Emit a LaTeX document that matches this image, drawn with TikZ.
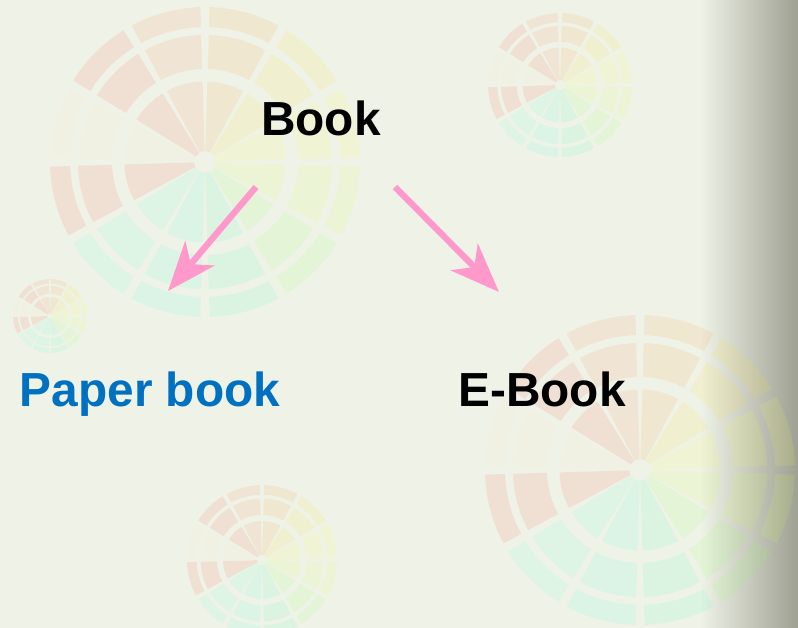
\documentclass[tikz,border=0pt]{standalone}
\usepackage{fontspec}
\setmainfont{Liberation Sans}
\usetikzlibrary{arrows.meta}
\definecolor{bg}{RGB}{239,243,231}
\definecolor{edge}{RGB}{158,160,146}
\definecolor{pb}{RGB}{0,112,192}
\definecolor{pk}{RGB}{255,153,204}

% faint colour wheel: x, y, radius
\newcommand{\drawwheel}[3]{%
  \begin{scope}[shift={(#1,#2)}]
  \foreach \h/\s [count=\k from 0] in {28/0.8,50/0.8,62/0.7,75/0.7,100/0.6,160/0.7,170/0.7,165/0.6,5/0.7,30/0.2,5/0.7,18/0.7}{
    \definecolor{wc}{Hsb}{\h,\s,1}
    \pgfmathsetmacro{\aa}{60-30*\k+1.7}
    \pgfmathsetmacro{\ab}{90-30*\k-1.7}
    \foreach \ri/\ro in {0.07/0.52,0.6/0.82,0.87/1}{
      \pgfmathsetmacro{\rr}{\ri*#3}
      \pgfmathsetmacro{\RR}{\ro*#3}
      \fill[wc,fill opacity=0.12] (\aa:\rr) arc[start angle=\aa,end angle=\ab,radius=\rr]
        -- (\ab:\RR) arc[start angle=\ab,end angle=\aa,radius=\RR] -- cycle;
    }
  }
  \end{scope}}

\begin{document}
\begin{tikzpicture}[x=0.025cm,y=0.025cm,
    lbl/.style={font=\fontsize{34}{40}\selectfont\bfseries,inner sep=0pt,anchor=base},
    arr/.style={-{Stealth[length=35pt,width=27pt,inset=10pt]},line width=4.5pt,draw=pk},
]
% Background
\useasboundingbox (0,0) rectangle (798,-628);
\fill[bg] (0,0) rectangle (798,-628);
\shade[left color=bg,right color=edge] (700,0) rectangle (798,-628);

% Wheels
\begin{scope}
\clip (0,0) rectangle (798,-628);
\drawwheel{205}{-162}{155}
\drawwheel{560}{-85}{72}
\drawwheel{50}{-316}{37}
\drawwheel{262}{-560}{75}
\drawwheel{640}{-470}{155}
\end{scope}

% Labels
\node[lbl] (book) at (321,-136) {Book};
\node[lbl,text=pb] (paper) at (150,-407) {Paper book};
\node[lbl] (ebook) at (542,-407) {E-Book};

% Arrow ends
\coordinate (bookL) at (256,-187);
\coordinate (paperT) at (168,-291);
\coordinate (bookR) at (395,-187);
\coordinate (ebookT) at (499,-292);

% Arrows
\draw[arr] (bookL) -- (paperT);
\draw[arr] (bookR) -- (ebookT);
\end{tikzpicture}
\end{document}
